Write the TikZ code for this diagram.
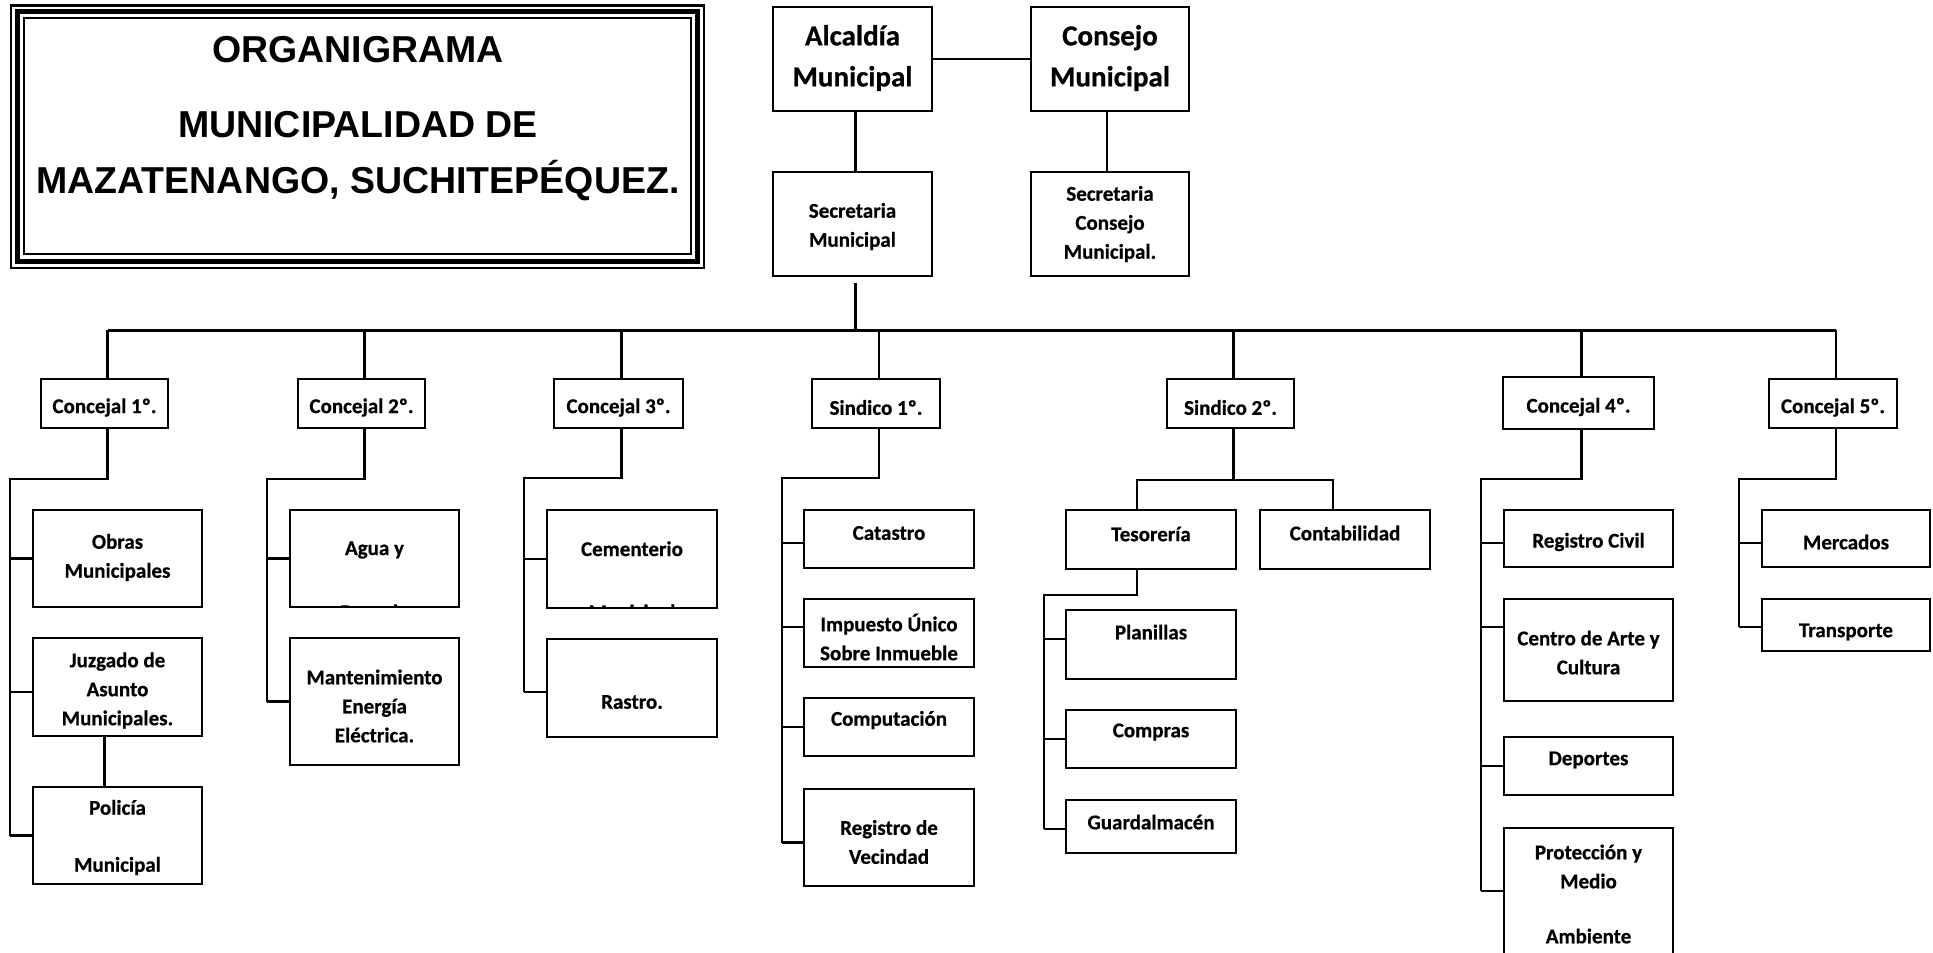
\documentclass[tikz,border=0pt]{standalone}
\usepackage{fontspec}
\setmainfont{Carlito}[BoldFeatures={FakeBold=0.6}]
\newfontfamily\ttlfont{Liberation Sans}
\newcommand\mybox[5]{\node[bx, minimum width={#4pt-#2pt}, minimum height={#5pt-#3pt}] (#1) at ({(#2+#4)/2},{(#3+#5)/2}) {};}
\newcommand\tk[3]{\coordinate (#1T) at ([yshift=#3pt]#1.west); \draw[ln] (#1T) -- (#1T -| #2);}
\begin{document}
\begin{tikzpicture}[x=1pt,y=-1pt,
  bx/.style={draw,line width=2.7pt,inner sep=0pt},
  ln/.style={line width=2.5pt},
  txt/.style={font=\bfseries\fontsize{21}{29}\selectfont,align=center,inner sep=0pt},
  big/.style={font=\bfseries\fontsize{29}{41}\selectfont,align=center,inner sep=0pt},
  ttl/.style={font=\ttlfont\bfseries\fontsize{37.5}{44}\selectfont,inner sep=0pt}]
\useasboundingbox (0,0) rectangle (1933,953);
\fill[white] (0,0) rectangle (1933,953);
\clip (0,0) rectangle (1933,953);

% title frame
\draw[line width=2.5pt] (11,5.5) rectangle (704,268);
\draw[line width=5pt] (17.5,11.5) rectangle (697.5,261.5);
\draw[line width=2pt] (23.5,18) rectangle (691,254);
\node[ttl,anchor=base] (t1) at (358,62) {ORGANIGRAMA};
\node[ttl,anchor=base] (t2) at (358,137) {MUNICIPALIDAD DE};
\node[ttl,anchor=base] (t3) at (358,193) {MAZATENANGO, SUCHITEPÉQUEZ.};

% top
\mybox{alc}{773}{7}{932}{111}
\mybox{con}{1031}{7}{1189}{111}
\mybox{secm}{773}{172}{932}{276}
\mybox{secc}{1031}{172}{1189}{276}
\node[big] (alct) at (852.5,58) {Alcaldía\\Municipal};
\node[big] (cont0) at (1110,58) {Consejo\\Municipal};
\node[txt] (secmt) at (852.5,226.5) {Secretaria\\Municipal};
\node[txt] (secct) at (1110,224) {Secretaria\\Consejo\\Municipal.};
\draw[ln] (alc.east) -- (con.west);
\coordinate (alcS) at ([xshift=3pt]alc.south);
\draw[ln] (alcS) -- (alcS |- secm.north);
\coordinate (conS) at ([xshift=-3pt]con.south);
\draw[ln] (conS) -- (conS |- secc.north);

% level 2
\mybox{c1}{41}{379}{168}{428}
\mybox{c2}{298}{379}{425}{428}
\mybox{c3}{554}{379}{683}{428}
\mybox{s1}{812}{379}{940}{428}
\mybox{s2}{1167}{379}{1294}{428}
\mybox{c4}{1503}{377}{1654}{429}
\mybox{c5}{1769}{379}{1897}{428}
\node[txt] (c1t) at ([yshift=-4pt]c1.center) {Concejal 1º.};
\node[txt] (c2t) at ([yshift=-4pt]c2.center) {Concejal 2º.};
\node[txt] (c3t) at ([yshift=-4pt]c3.center) {Concejal 3º.};
\node[txt] (s1t) at ([yshift=-4pt]s1.center) {Sindico 1º.};
\node[txt] (s2t) at ([yshift=-4pt]s2.center) {Sindico 2º.};
\node[txt] (c4t) at ([yshift=-4pt]c4.center) {Concejal 4º.};
\node[txt] (c5t) at ([yshift=-4pt]c5.center) {Concejal 5º.};

\coordinate (bus) at (0,330);
\foreach \n in {c1,c2,c3,s1,s2,c4,c5} {
  \coordinate (\n N) at ([xshift=3pt]\n.north);
  \coordinate (\n S) at ([xshift=3pt]\n.south);
  \draw[ln] (\n N |- bus) -- (\n N);
}
\draw[line width=3pt] (c1N |- bus) -- (c5N |- bus);
\draw[ln] ([yshift=-6pt]alcS |- secm.south) -- (alcS |- bus);

% branch c1
\mybox{obras}{33}{510}{202}{607}
\mybox{juz}{33}{638}{202}{736}
\mybox{pol}{33}{787}{202}{884}
\node[txt] (obrast) at (117.5,557.5) {Obras\\Municipales};
\node[txt] (juzt) at (117.5,690.5) {Juzgado de\\Asunto\\Municipales.};
\node[txt] (polt) at (117.5,837.5) {Policía\\[28pt]Municipal};
\coordinate (c1k) at (10,479);
\tk{obras}{c1k}{0}
\tk{juz}{c1k}{-5}
\tk{pol}{c1k}{0}
\draw[ln] (c1S) |- (c1k) -- (c1k |- polT);
\draw[ln] ([xshift=-13pt]juz.south) -- ([xshift=-13pt]pol.north);

% branch c2
\mybox{agua}{290}{510}{459}{607}
\mybox{mant}{290}{638}{459}{765}
\node[txt,anchor=base] (aguat) at (374.5,555) {Agua y};
\begin{scope}
\clip ([shift={(1.4pt,1.4pt)}]agua.south west) rectangle ([shift={(-1.4pt,-1.4pt)}]agua.north east);
\node[txt,anchor=base] (aguat2) at (374.5,619) {Drenaje};
\end{scope}
\node[txt] (mantt) at (374.5,706) {Mantenimiento\\Energía\\Eléctrica.};
\coordinate (c2k) at (267,479);
\tk{agua}{c2k}{0}
\tk{mant}{c2k}{0}
\draw[ln] (c2S) |- (c2k) -- (c2k |- mantT);

% branch c3
\mybox{cem}{547}{510}{717}{608}
\mybox{ras}{547}{639}{717}{737}
\node[txt,anchor=base] (cemt) at (632,556) {Cementerio};
\begin{scope}
\clip ([shift={(1.4pt,1.4pt)}]cem.south west) rectangle ([shift={(-1.4pt,-1.4pt)}]cem.north east);
\node[txt,anchor=base] (cemt2) at (632,619) {Municipal};
\end{scope}
\node[txt] (rast) at (632,702) {Rastro.};
\coordinate (c3k) at (524,478);
\tk{cem}{c3k}{0}
\tk{ras}{c3k}{-4}
\draw[ln] (c3S) |- (c3k) -- (c3k |- rasT);

% branch s1
\mybox{cat}{804}{510}{974}{568}
\mybox{imp}{804}{599}{974}{667}
\mybox{comp}{804}{698}{974}{756}
\mybox{rv}{804}{789}{974}{886}
\node[txt] (catt) at (889,533) {Catastro};
\node[txt] (impt) at (889,637) {Impuesto Único\\Sobre Inmueble};
\node[txt] (compt) at (889,720) {Computación};
\node[txt] (rvt) at (889,842) {Registro de\\Vecindad};
\coordinate (s1k) at (782,478);
\tk{cat}{s1k}{-4}
\tk{imp}{s1k}{6}
\tk{comp}{s1k}{0}
\tk{rv}{s1k}{-5}
\draw[ln] (s1S) |- (s1k) -- (s1k |- rvT);

% branch s2
\mybox{tes}{1066}{510}{1236}{569}
\mybox{cont}{1260}{510}{1430}{569}
\mybox{plan}{1066}{610}{1236}{679}
\mybox{compr}{1066}{710}{1236}{768}
\mybox{guard}{1066}{800}{1236}{853}
\node[txt] (test) at (1151,534) {Tesorería};
\node[txt] (contt) at (1345,533) {Contabilidad};
\node[txt] (plant) at (1151,632) {Planillas};
\node[txt] (comprt) at (1151,732) {Compras};
\node[txt] (guardt) at (1151,822) {Guardalmacén};
\coordinate (s2k) at (0,480);
\coordinate (tesN) at ([xshift=-14pt]tes.north);
\coordinate (contN) at ([xshift=-12pt]cont.north);
\draw[ln] (s2S) -- (s2S |- s2k);
\draw[ln] (tesN) |- (contN |- s2k) -- (contN);
\coordinate (tesS) at ([xshift=-14pt]tes.south);
\coordinate (s2b) at (1044,595);
\tk{plan}{s2b}{5.5}
\tk{compr}{s2b}{0}
\tk{guard}{s2b}{-2.5}
\draw[ln] (tesS) |- (s2b) -- (s2b |- guardT);

% branch c4
\mybox{rc}{1504}{510}{1673}{567}
\mybox{cen}{1504}{599}{1673}{701}
\mybox{dep}{1504}{737}{1673}{795}
\mybox{prot}{1504}{828}{1673}{1000}
\node[txt] (rct) at (1588.5,542) {Registro Civil};
\node[txt] (cent) at (1588.5,652.5) {Centro de Arte y\\Cultura};
\node[txt] (dept) at (1588.5,760) {Deportes};
\node[txt] (prott) at (1588.5,894) {Protección y\\Medio\\[26pt]Ambiente};
\coordinate (c4k) at (1481,479);
\tk{rc}{c4k}{-4.5}
\tk{cen}{c4k}{23}
\tk{dep}{c4k}{0}
\tk{prot}{c4k}{23}
\draw[ln] (c4S) |- (c4k) -- (c4k |- protT);

% branch c5
\mybox{mer}{1762}{510}{1930}{567}
\mybox{tra}{1762}{599}{1930}{651}
\node[txt] (mert) at (1846,542) {Mercados};
\node[txt] (trat) at (1846,632) {Transporte};
\coordinate (c5k) at (1739,479);
\tk{mer}{c5k}{-4.5}
\tk{tra}{c5k}{-2}
\draw[ln] (c5S) |- (c5k) -- (c5k |- traT);
\end{tikzpicture}
\end{document}
